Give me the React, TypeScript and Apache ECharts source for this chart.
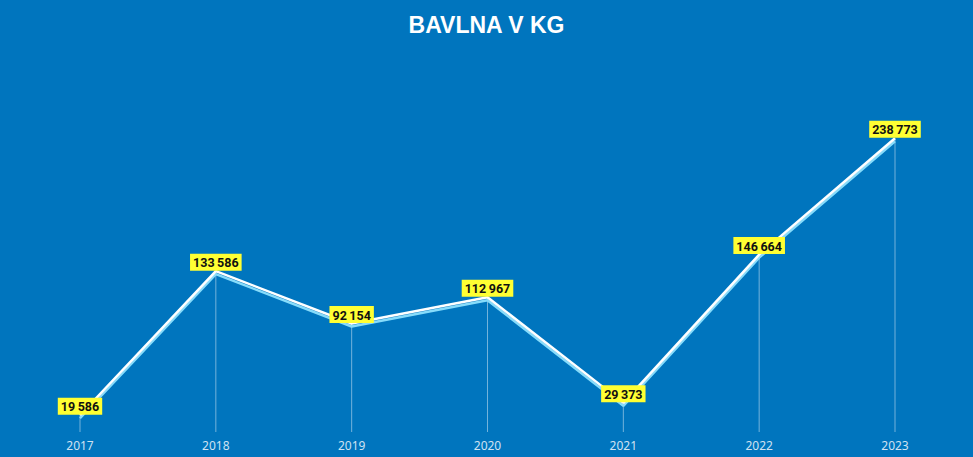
import React, { useEffect, useRef } from "react";
import * as echarts from "echarts";

const years = ["2017", "2018", "2019", "2020", "2021", "2022", "2023"];
const values = [19586, 133586, 92154, 112967, 29373, 146664, 238773];
const titleText = "BAVLNA V KG";

function fmt(v: number): string {
  return String(v).replace(/\B(?=(\d{3})+(?!\d))/g, "\u2009");
}

export default function App() {
  const ref = useRef<HTMLDivElement>(null);
  useEffect(() => {
    if (!ref.current) return;
    const chart = echarts.init(ref.current, null, { renderer: "svg" });
    chart.setOption({
      animation: false,
      backgroundColor: "#0075BE",
      title: {
        text: titleText,
        left: "center",
        top: 8,
        textStyle: {
          color: "#ffffff",
          fontSize: 23,
          fontWeight: "bold",
          fontFamily: "Liberation Sans, Arial, sans-serif",
        },
      },
      grid: { left: 80, right: 78, top: 124, bottom: 17 },
      xAxis: {
        type: "category",
        data: years,
        boundaryGap: false,
        axisLine: { show: false },
        axisTick: { show: false },
        axisLabel: {
          color: "#cfe2f2",
          fontSize: 12,
          margin: -1,
          fontFamily: "Noto Sans, sans-serif",
        },
        splitLine: { show: false },
      },
      yAxis: {
        type: "value",
        min: 0,
        max: 250000,
        show: false,
        splitLine: { show: false },
      },
      series: [
        {
          type: "custom",
          data: values.map((v, i) => [i, v]),
          z: 1,
          silent: true,
          renderItem: (params: any, api: any) => {
            const top = api.coord([api.value(0), api.value(1)]);
            const base = api.coord([api.value(0), 0]);
            return {
              type: "line",
              shape: { x1: top[0], y1: top[1], x2: top[0], y2: base[1] - 8 },
              style: { stroke: "rgba(255,255,255,0.45)", lineWidth: 1 },
            };
          },
        },
        {
          type: "line",
          data: values,
          z: 3,
          symbol: "circle",
          symbolSize: 1,
          showSymbol: true,
          itemStyle: { color: "rgba(255,255,255,0)" },
          lineStyle: {
            color: "#ffffff",
            width: 2.5,
            shadowColor: "#86dcfb",
            shadowBlur: 0,
            shadowOffsetX: 0,
            shadowOffsetY: 3,
          },
          label: {
            show: true,
            position: "top",
            distance: 0,
            formatter: (p: any) => fmt(p.value),
            backgroundColor: "#FFFF33",
            color: "#111111",
            fontWeight: "bold",
            fontSize: 12.5,
            fontFamily: "Roboto, sans-serif",
            padding: [2, 3, 1, 3],
            lineHeight: 14,
          },
        },
      ],
    });
    return () => chart.dispose();
  }, []);
  return (
    <div
      ref={ref}
      style={{ position: "fixed", left: 0, top: 0, width: 973, height: 457 }}
    />
  );
}
